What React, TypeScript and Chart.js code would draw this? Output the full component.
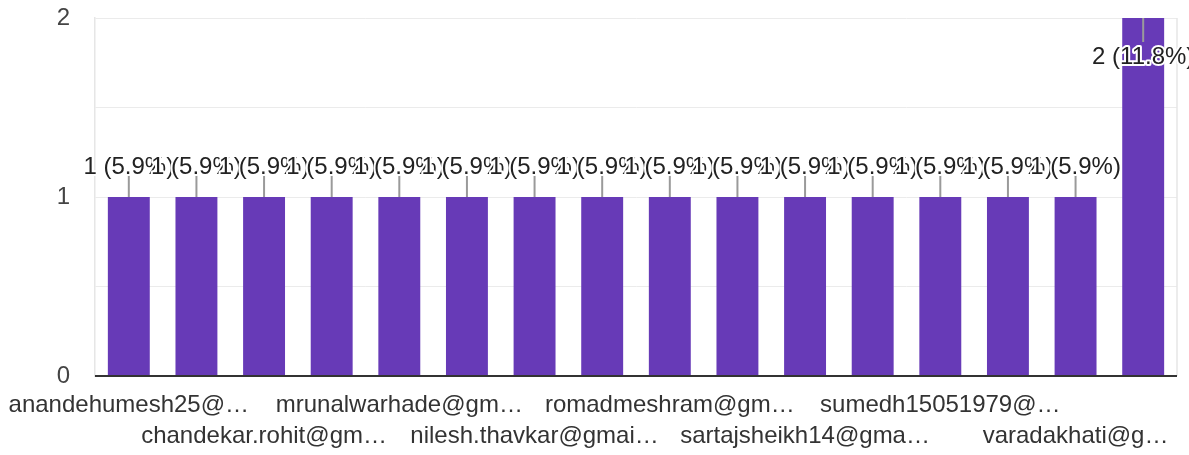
import React, { useEffect, useRef } from "react";
import { Chart, registerables } from "chart.js";

Chart.register(...registerables);

const categories: string[] = [
  "anandehumesh25@…", "",
  "chandekar.rohit@gm…", "",
  "mrunalwarhade@gm…", "",
  "nilesh.thavkar@gmai…", "",
  "romadmeshram@gm…", "",
  "sartajsheikh14@gma…", "",
  "sumedh15051979@…", "",
  "varadakhati@g…", "",
];

const values: number[] = [1, 1, 1, 1, 1, 1, 1, 1, 1, 1, 1, 1, 1, 1, 1, 2];

const yTickValues: number[] = [0, 1, 2];

const FONT = "'Liberation Sans', Arial, sans-serif";
const BAR_COLOR = "#673ab7";

const total = values.reduce((a, b) => a + b, 0);

const labelPlugin = {
  id: "valueLabels",
  afterDatasetsDraw(chart: any) {
    const ctx = chart.ctx as CanvasRenderingContext2D;
    const area = chart.chartArea;
    const meta = chart.getDatasetMeta(0);
    ctx.save();
    // right frame line
    ctx.strokeStyle = "#e6e6e6";
    ctx.lineWidth = 1.5;
    ctx.beginPath();
    ctx.moveTo(area.right, area.top);
    ctx.lineTo(area.right, area.bottom);
    ctx.stroke();
    // baseline axis
    ctx.strokeStyle = "#333333";
    ctx.lineWidth = 2;
    ctx.beginPath();
    ctx.moveTo(area.left, area.bottom);
    ctx.lineTo(area.right, area.bottom);
    ctx.stroke();

    const items: { x: number; lineEnd: number; y: number; textY: number; text: string }[] = [];
    meta.data.forEach((bar: any, i: number) => {
      const v = values[i];
      const text = `${v} (${((v / total) * 100).toFixed(1)}%)`;
      const inside = bar.y - 50 < area.top;
      if (inside) {
        items.push({ x: bar.x, y: bar.y, lineEnd: bar.y + 24, textY: bar.y + 46, text });
      } else {
        items.push({ x: bar.x, y: bar.y, lineEnd: bar.y - 22, textY: bar.y - 23, text });
      }
    });
    ctx.strokeStyle = "#9a9a9a";
    ctx.lineWidth = 2;
    items.forEach((it) => {
      ctx.beginPath();
      ctx.moveTo(it.x, it.y);
      ctx.lineTo(it.x, it.lineEnd);
      ctx.stroke();
    });
    ctx.font = `24px ${FONT}`;
    ctx.textAlign = "center";
    ctx.textBaseline = "alphabetic";
    ctx.lineJoin = "round";
    items.forEach((it) => {
      ctx.strokeStyle = "#ffffff";
      ctx.lineWidth = 4;
      ctx.strokeText(it.text, it.x, it.textY);
      ctx.fillStyle = "#222222";
      ctx.fillText(it.text, it.x, it.textY);
    });
    ctx.restore();
  },
};

export default function App() {
  const ref = useRef<HTMLCanvasElement | null>(null);
  useEffect(() => {
    if (!ref.current) return;
    const chart = new Chart(ref.current, {
      type: "bar",
      data: {
        labels: categories,
        datasets: [
          {
            data: values,
            backgroundColor: BAR_COLOR,
            borderWidth: 0,
            categoryPercentage: 1,
            barPercentage: 0.62,
          },
        ],
      },
      options: {
        animation: false,
        responsive: false,
        devicePixelRatio: 1,
        layout: { padding: { top: 18, right: 12, left: 0, bottom: 0 } },
        plugins: {
          legend: { display: false },
          tooltip: { enabled: false },
        },
        scales: {
          x: {
            grid: { display: false, drawTicks: false },
            border: { display: false },
            ticks: {
              autoSkip: false,
              maxRotation: 0,
              minRotation: 0,
              padding: 14,
              color: "#333333",
              font: { family: FONT, size: 24, lineHeight: 1.3 },
              callback: (_v: any, idx: number) => {
                const l = categories[idx];
                if (!l) return "";
                return (idx / 2) % 2 === 0 ? l : ["", l];
              },
            },
            afterFit: (scale: any) => {
              scale.height = 79;
              scale.paddingLeft = 0;
              scale.paddingRight = 0;
            },
          },
          y: {
            min: 0,
            max: 2,
            grid: { color: "#ebebeb", lineWidth: 1, drawTicks: false },
            border: { display: true, color: "#e6e6e6", width: 1.5 },
            ticks: {
              stepSize: 0.5,
              padding: 25,
              color: "#444444",
              font: { family: FONT, size: 24 },
              callback: (v: any) => (yTickValues.includes(Number(v)) ? String(v) : ""),
            },
            afterFit: (scale: any) => {
              scale.width = 95;
              scale.paddingTop = 0;
              scale.paddingBottom = 0;
            },
          },
        },
      },
      plugins: [labelPlugin],
    });
    return () => chart.destroy();
  }, []);
  return (
    <div style={{ position: "absolute", left: 0, top: 0, width: 1189, height: 455, background: "#fff" }}>
      <canvas ref={ref} width={1189} height={455} style={{ display: "block" }} />
    </div>
  );
}
